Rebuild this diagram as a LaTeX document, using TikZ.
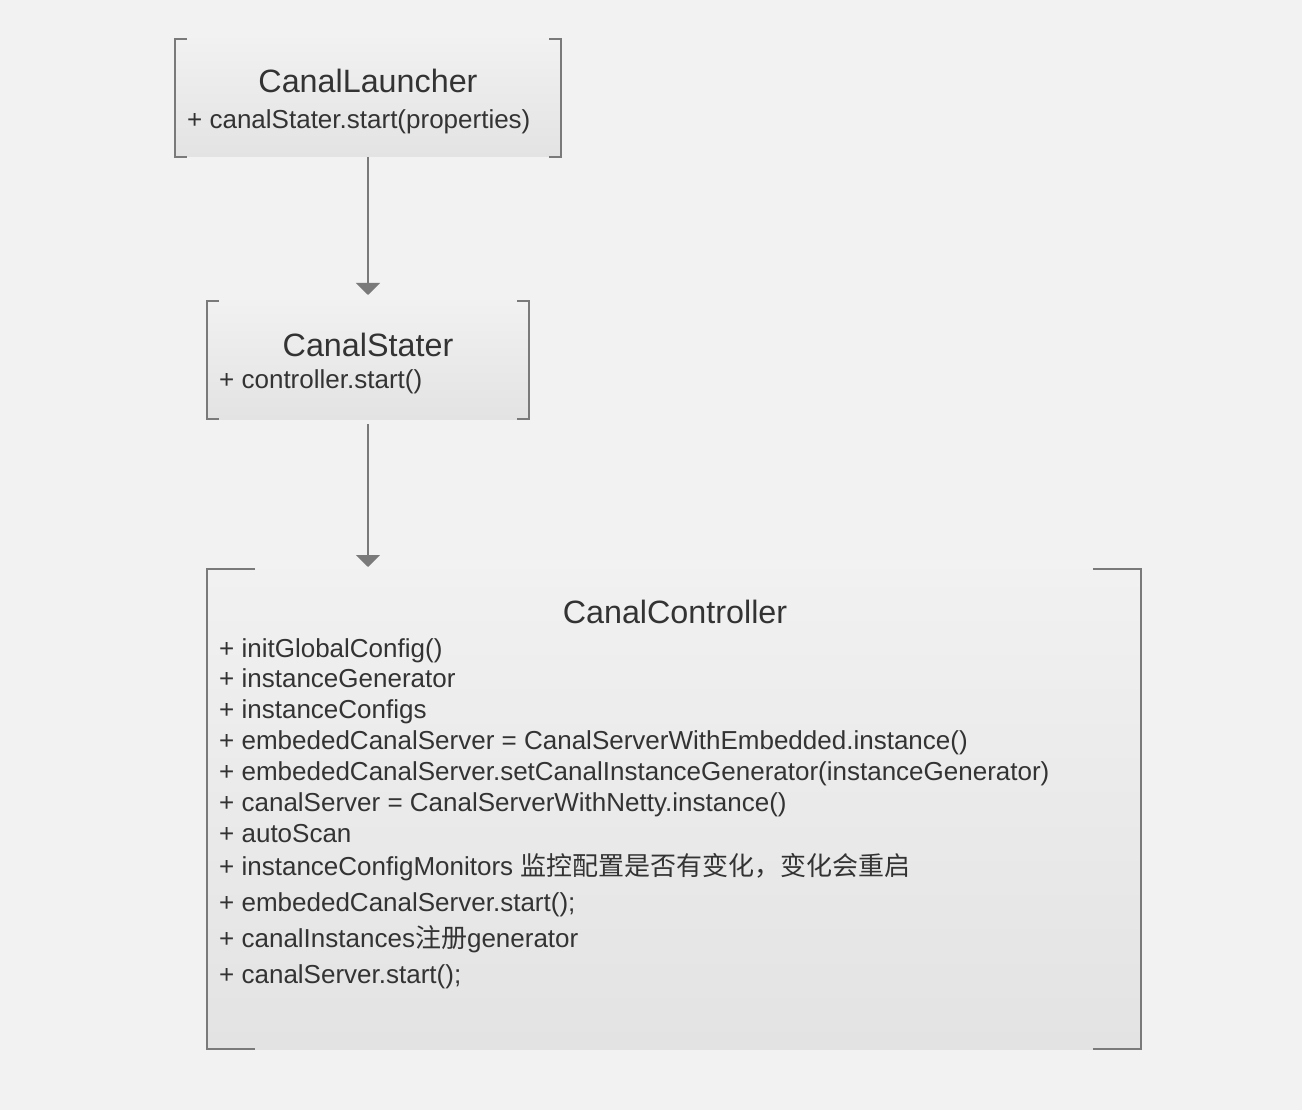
\documentclass[tikz,border=0pt]{standalone}
\usepackage{fontspec}
\setmainfont{Liberation Sans}
\newfontfamily\cjk{Noto Sans CJK SC}
\usetikzlibrary{arrows.meta}
\definecolor{bgc}{HTML}{F2F2F2}
\definecolor{boxtop}{HTML}{F1F1F1}
\definecolor{boxbot}{HTML}{E3E3E3}
\definecolor{linec}{HTML}{7A7A7A}
\definecolor{txtc}{HTML}{333333}
\tikzset{
  boxfill/.style={rectangle, inner sep=0pt, outer sep=0pt, top color=boxtop, bottom color=boxbot, draw=none},
  brk/.style={draw=linec, line width=2pt},
  titletxt/.style={anchor=base, inner sep=0pt, text=txtc, font=\fontsize{32.3}{38}\selectfont},
  bodytxt/.style={anchor=base west, inner sep=0pt, text=txtc, font=\fontsize{26}{30}\selectfont},
  conn/.style={draw=linec, line width=2pt, -{Triangle[width=24pt,length=12pt]}}
}
\begin{document}
\begin{tikzpicture}[x=1pt,y=-1pt]
\fill[bgc] (0,0) rectangle (1302,1110);
\useasboundingbox (0,0) rectangle (1302,1110);

% boxes
\node[boxfill, minimum width=386pt, minimum height=118pt] (b1) at (368,98) {};
\node[boxfill, minimum width=322pt, minimum height=118pt] (b2) at (368,360) {};
\node[boxfill, minimum width=934pt, minimum height=480pt] (b3) at (674,809) {};

% brackets box 1
\draw[brk] ([xshift=12pt]b1.north west) -- (b1.north west) -- (b1.south west) -- ([xshift=12pt]b1.south west);
\draw[brk] ([xshift=-12pt]b1.north east) -- (b1.north east) -- (b1.south east) -- ([xshift=-12pt]b1.south east);
% brackets box 2
\draw[brk] ([xshift=12pt]b2.north west) -- (b2.north west) -- (b2.south west) -- ([xshift=12pt]b2.south west);
\draw[brk] ([xshift=-12pt]b2.north east) -- (b2.north east) -- (b2.south east) -- ([xshift=-12pt]b2.south east);
% brackets box 3
\draw[brk] ([xshift=48pt]b3.north west) -- (b3.north west) -- (b3.south west) -- ([xshift=48pt]b3.south west);
\draw[brk] ([xshift=-48pt]b3.north east) -- (b3.north east) -- (b3.south east) -- ([xshift=-48pt]b3.south east);

% texts box 1
\node[titletxt] (t1) at (368,93) {CanalLauncher};
\node[bodytxt] (s1) at (187,129) {+ canalStater.start(properties)};
% texts box 2
\node[titletxt] (t2) at (368,356) {CanalStater};
\node[bodytxt] (s2) at (219,388) {+ controller.start()};
% texts box 3
\node[titletxt] (t3) at (675,623) {CanalController};
\node[bodytxt] (l1) at (219,657) {+ initGlobalConfig()};
\node[bodytxt] (l2) at (219,687) {+ instanceGenerator};
\node[bodytxt] (l3) at (219,718) {+ instanceConfigs};
\node[bodytxt] (l4) at (219,749) {+ embededCanalServer = CanalServerWithEmbedded.instance()};
\node[bodytxt] (l5) at (219,780) {+ embededCanalServer.setCanalInstanceGenerator(instanceGenerator)};
\node[bodytxt] (l6) at (219,811) {+ canalServer = CanalServerWithNetty.instance()};
\node[bodytxt] (l7) at (219,842) {+ autoScan};
\node[bodytxt] (l8) at (219,875) {+ instanceConfigMonitors {\cjk 监控配置是否有变化，变化会重启}};
\node[bodytxt] (l9) at (219,911) {+ embededCanalServer.start();};
\node[bodytxt] (l10) at (219,947) {+ canalInstances{\cjk 注册}generator};
\node[bodytxt] (l11) at (219,983) {+ canalServer.start();};

% connectors
\coordinate (a3) at (b2.south |- b3.north);
\draw[conn, shorten >=6pt] (b1.south) -- (b2.north);
\draw[conn, shorten <=5pt, shorten >=2pt] (b2.south) -- (a3);
\end{tikzpicture}
\end{document}
